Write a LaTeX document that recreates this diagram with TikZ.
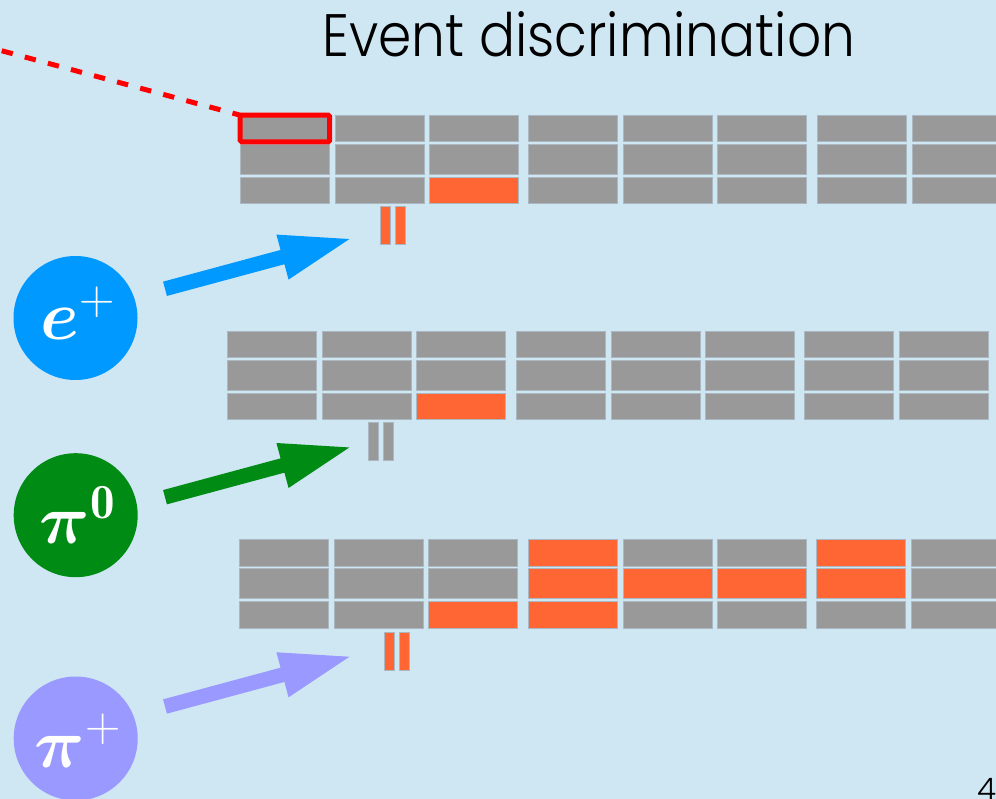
\documentclass[tikz,border=0pt]{standalone}
\usepackage{fix-cm}
\usepackage{fontspec}
\usepackage{bm}
\usetikzlibrary{calc}
\IfFontExistsTF{Poppins Light}{\newfontfamily\titlefont{Poppins Light}}{%
  \IfFontExistsTF{Poppins-Light}{\newfontfamily\titlefont{Poppins-Light}}{\newfontfamily\titlefont{Poppins}}}
\definecolor{bg}{RGB}{207,230,243}
\definecolor{cellgray}{RGB}{153,153,153}
\definecolor{cellline}{RGB}{172,184,193}
\definecolor{hit}{RGB}{255,102,51}
\definecolor{epos}{RGB}{0,153,255}
\definecolor{pizero}{RGB}{0,140,20}
\definecolor{piplus}{RGB}{153,153,255}
\newcommand{\bigmath}{\fontsize{70}{80}\selectfont}
\tikzset{
  cellbox/.style={draw=cellline, line width=0.6pt, fill=cellgray, inner sep=0pt, outer sep=0pt, anchor=north west, minimum width=89pt},
  hitstyle/.style={draw=cellline, line width=0.6pt, fill=hit},
  barbox/.style={draw=cellline, line width=0.6pt, inner sep=0pt, outer sep=0pt, anchor=north west, minimum width=10pt, minimum height=37.5pt},
  particle/.style={circle, inner sep=0pt, minimum size=124pt},
  plabel/.style={text=white, font=\bigmath, inner sep=0pt},
  titletext/.style={inner sep=0pt, anchor=base west},
}
\newcommand{\cellgrid}[3]{%
  \foreach \c/\cx in {1/0,2/94.6,3/189,4/288.5,5/383.5,6/477.3,7/576.6,8/672}{%
    \foreach \r/\ry/\rh in {1/0/26.8,2/29.6/29.4,3/62/26.8}{%
      \node[cellbox, minimum height=\rh pt] (#1-\c-\r) at (#2+\cx,#3+\ry) {};
    }}}
\newcommand{\hitcell}[1]{\draw[hitstyle] (#1.north west) rectangle (#1.south east);}
\newcommand{\fatarrow}[2]{%
  \begin{scope}[shift={(#2)}, rotate=15.1]
    \fill[#1] (0pt,-7.4pt) -- (121.7pt,-7.4pt) -- (121.7pt,-23.3pt) -- (191pt,0pt)
      -- (121.7pt,23.3pt) -- (121.7pt,7.4pt) -- (0pt,7.4pt) -- cycle;
  \end{scope}}
\begin{document}
\begin{tikzpicture}[x=1pt,y=-1pt]
\useasboundingbox (0,0) rectangle (996,799);
\fill[bg] (0,0) rectangle (996,799);

% title and page number
\node[titletext] (title) at (322,56.7) {\resizebox{533pt}{45pt}{\titlefont Event discrimination}};
\node[titletext] (pagenum) at (977,800) {\titlefont\fontsize{31}{36}\selectfont 4};

% calorimeter grids
\cellgrid{t}{240.2}{115}
\cellgrid{m}{227.7}{331}
\cellgrid{b}{239.6}{539}
\hitcell{t-3-3}
\hitcell{m-3-3}
\foreach \h in {b-3-3,b-4-1,b-4-2,b-4-3,b-5-2,b-6-2,b-7-1,b-7-2}{\hitcell{\h}}

% highlighted cell and dashed pointer
\node[draw=red, line width=5pt, rounded corners=1.5pt, inner sep=0pt, outer sep=0pt,
      minimum width=89.5pt, minimum height=26.6pt, anchor=north west] (redbox) at (240.2,115.2) {};
\coordinate (dstart) at (0,50.3);
\draw[red, line width=5pt, dash pattern=on 11.4pt off 12.5pt, dash phase=22.1pt] (dstart) -- (redbox.north west);

% signal bars
\node[barbox, fill=hit] (tbar1) at (380,206.5) {};
\node[barbox, fill=hit] (tbar2) at (395.5,206.5) {};
\node[barbox, fill=cellgray] (mbar1) at (368.3,422.3) {};
\node[barbox, fill=cellgray] (mbar2) at (383.5,422.3) {};
\node[barbox, fill=hit] (bbar1) at (384.3,632.5) {};
\node[barbox, fill=hit] (bbar2) at (399.6,632.5) {};

% particles
\node[particle, fill=epos] (ep) at (75.5,318) {};
\node[particle, fill=pizero] (pz) at (75.7,515.2) {};
\node[particle, fill=piplus] (pp) at (75.7,738.5) {};
\node[plabel] (eplabel) at (78,313) {$\bm{e}^{+}$};
\node[plabel] (pzlabel) at (77.5,515) {$\bm{\pi}^{\mathbf{0}}$};
\node[plabel] (pplabel) at (78,740.5) {$\bm{\pi}^{+}$};

% arrows
\coordinate (eptail) at (165,288.8);
\coordinate (pztail) at (165,497.2);
\coordinate (pptail) at (165,706.5);
\fatarrow{epos}{eptail}
\fatarrow{pizero}{pztail}
\fatarrow{piplus}{pptail}
\end{tikzpicture}
\end{document}
